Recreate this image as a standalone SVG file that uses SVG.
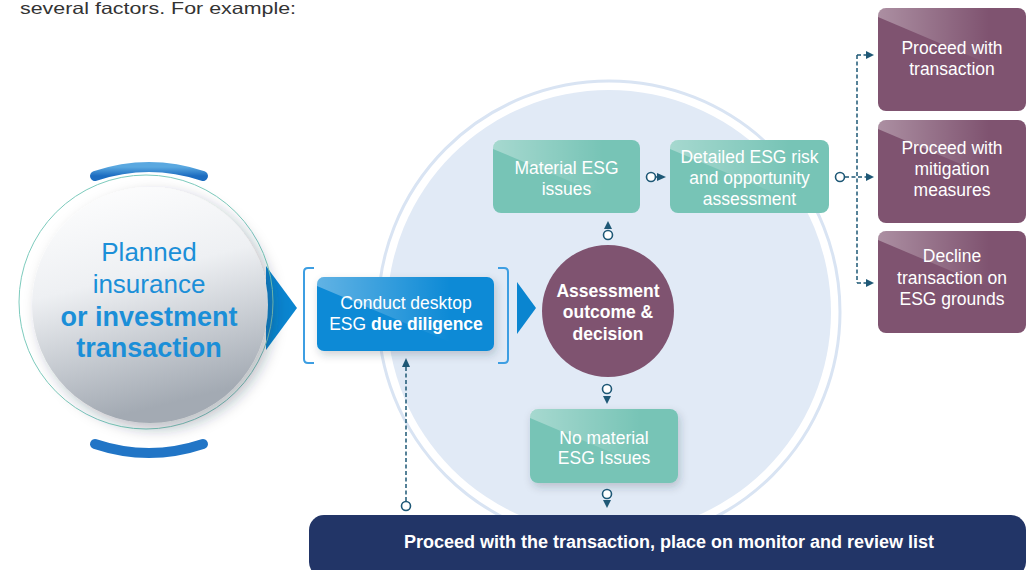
<svg xmlns="http://www.w3.org/2000/svg" width="1029" height="570" viewBox="0 0 1029 570">
<style>
text{font-family:"Liberation Sans",Arial,sans-serif}
.nt{fill:#ffffff;font-size:17.5px;text-anchor:middle}
.nb{fill:#ffffff;font-size:17.5px;font-weight:bold;text-anchor:middle}
.teal{fill:#77c4b6}
.purp{fill:#7f5370}
.con{stroke:#1e5876;stroke-width:1.5;fill:none}
.dash{stroke:#1e5876;stroke-width:1.5;fill:none;stroke-dasharray:4 2.5}
.dot{fill:#ffffff;stroke:#1e5876;stroke-width:1.6}
.ah{fill:#1e5876}
.br{stroke:#3d9ee2;stroke-width:2;fill:none;stroke-linejoin:round}
</style>
<defs>
<linearGradient id="sheen" x1="0" y1="0" x2="1" y2="0">
<stop offset="0" stop-color="#ffffff" stop-opacity="0.35"/>
<stop offset="1" stop-color="#ffffff" stop-opacity="0"/>
</linearGradient>
<linearGradient id="sphere" x1="0" y1="0" x2="0.25" y2="1">
<stop offset="0" stop-color="#ffffff"/>
<stop offset="0.45" stop-color="#eef0f3"/>
<stop offset="1" stop-color="#a3aab3"/>
</linearGradient>
<linearGradient id="arcg" x1="0" y1="0" x2="0" y2="1">
<stop offset="0" stop-color="#5aa8e0"/>
<stop offset="1" stop-color="#1c6cc0"/>
</linearGradient>
<filter id="sh" x="-20%" y="-20%" width="150%" height="160%">
<feDropShadow dx="2" dy="4" stdDeviation="4" flood-color="#203040" flood-opacity="0.22"/>
</filter>
<filter id="sh2" x="-20%" y="-20%" width="150%" height="150%">
<feDropShadow dx="6" dy="6" stdDeviation="7" flood-color="#203040" flood-opacity="0.3"/>
</filter>
</defs>
<rect width="1029" height="570" fill="#ffffff"/>
<text x="20" y="14" font-size="16.5" fill="#333333" textLength="276" lengthAdjust="spacingAndGlyphs">several factors. For example:</text>

<g id="big-circle">
<circle cx="609" cy="312" r="231" fill="none" stroke="#d9e4f3" stroke-width="3"/>
<circle cx="609" cy="312" r="222" fill="#e1eaf6"/>
</g>

<g id="planned">
<polygon points="266,266 297,308 266,350" fill="#0a85d0"/>
<path d="M95 176 Q149 158 203 176" stroke="url(#arcg)" stroke-width="10" stroke-linecap="round" fill="none"/>
<path d="M95 444 Q149 462 203 444" stroke="#2175c6" stroke-width="10" stroke-linecap="round" fill="none"/>
<circle cx="146" cy="302" r="127" fill="none" stroke="#7dcbbd" stroke-width="1"/>
<circle cx="150" cy="305" r="118" fill="url(#sphere)" filter="url(#sh2)"/>
<text x="149" y="261" font-size="26" fill="#1b8fd8" text-anchor="middle">Planned</text>
<text x="149" y="293" font-size="26" fill="#1b8fd8" text-anchor="middle">insurance</text>
<text x="149" y="326" font-size="27" font-weight="bold" fill="#1b8fd8" text-anchor="middle">or investment</text>
<text x="149" y="357" font-size="27" font-weight="bold" fill="#1b8fd8" text-anchor="middle">transaction</text>
</g>

<g id="due-diligence">
<path class="br" d="M314 268 H308 Q304 268 304 272 V359 Q304 363 308 363 H314"/>
<path class="br" d="M498 268 H504 Q508 268 508 272 V359 Q508 363 504 363 H498"/>
<rect x="317" y="277" width="177" height="74" rx="7" fill="#0a8ad6" filter="url(#sh)"/>
<path d="M317,286 V284 Q317,277 324,277 H450 V342 Z" fill="url(#sheen)"/>
<text class="nt" x="406" y="309">Conduct desktop</text>
<text class="nt" x="406" y="330">ESG <tspan font-weight="bold">due diligence</tspan></text>
<polygon points="517,282 536,308 517,334" fill="#0a85d0"/>
</g>

<g id="assessment">
<circle cx="608" cy="311" r="66" class="purp"/>
<text class="nb" x="608" y="297">Assessment</text>
<text class="nb" x="608" y="318">outcome &amp;</text>
<text class="nb" x="608" y="340">decision</text>
</g>

<g id="material">
<rect x="493" y="140" width="147" height="73" rx="8" class="teal"/>
<path d="M493,149 V147 Q493,140 500,140 H603 V195 Z" fill="url(#sheen)"/>
<text class="nt" x="566.5" y="174">Material ESG</text>
<text class="nt" x="566.5" y="195">issues</text>
</g>

<g id="detailed">
<rect x="670" y="140" width="159" height="73" rx="8" class="teal"/>
<path d="M670,149 V147 Q670,140 677,140 H789 V199 Z" fill="url(#sheen)"/>
<text class="nt" x="749.5" y="163">Detailed ESG risk</text>
<text class="nt" x="749.5" y="184">and opportunity</text>
<text class="nt" x="749.5" y="205">assessment</text>
</g>

<g id="no-material">
<rect x="530" y="409" width="148" height="74" rx="8" class="teal" filter="url(#sh)"/>
<path d="M530,418 V416 Q530,409 537,409 H641 V465 Z" fill="url(#sheen)"/>
<text class="nt" x="604" y="444">No material</text>
<text class="nt" x="604" y="464">ESG Issues</text>
</g>

<g id="proceed">
<rect x="878" y="8" width="148" height="103" rx="8" class="purp"/>
<path d="M878,17 V15 Q878,8 885,8 H989 V64 Z" fill="url(#sheen)"/>
<text class="nt" x="952" y="54">Proceed with</text>
<text class="nt" x="952" y="75">transaction</text>
</g>

<g id="mitigation">
<rect x="878" y="120" width="148" height="103" rx="8" class="purp"/>
<path d="M878,129 V127 Q878,120 885,120 H989 V176 Z" fill="url(#sheen)"/>
<text class="nt" x="952" y="154">Proceed with</text>
<text class="nt" x="952" y="175">mitigation</text>
<text class="nt" x="952" y="196">measures</text>
</g>

<g id="decline">
<rect x="878" y="231" width="148" height="102" rx="8" class="purp"/>
<path d="M878,240 V238 Q878,231 885,231 H989 V287 Z" fill="url(#sheen)"/>
<text class="nt" x="952" y="262">Decline</text>
<text class="nt" x="952" y="284">transaction on</text>
<text class="nt" x="952" y="305">ESG grounds</text>
</g>

<g id="monitor">
<rect x="309" y="515" width="717" height="62" rx="15" fill="#223567"/>
<text x="669" y="548" font-size="18" font-weight="bold" fill="#ffffff" text-anchor="middle">Proceed with the transaction, place on monitor and review list</text>
</g>

<g id="connectors">
<line class="con" x1="655" y1="177" x2="658" y2="177"/>
<polygon class="ah" points="657,173 666,177 657,181"/>
<circle class="dot" cx="651" cy="177" r="4.5"/>
<polygon class="ah" points="604,229 608,221 612,229"/>
<circle class="dot" cx="608" cy="235" r="4.5"/>
<polygon class="ah" points="603,396 607,404 611,396"/>
<circle class="dot" cx="607" cy="389" r="4.5"/>
<polygon class="ah" points="603,500 607,508 611,500"/>
<circle class="dot" cx="607" cy="494" r="4.5"/>
<line class="dash" x1="406" y1="501" x2="406" y2="366"/>
<polygon class="ah" points="402,367 406,358 410,367"/>
<circle class="dot" cx="406" cy="506" r="4.5"/>
<line class="dash" x1="845" y1="177" x2="867" y2="177"/>
<line class="dash" x1="857" y1="55" x2="857" y2="283"/>
<line class="dash" x1="857" y1="55" x2="867" y2="55"/>
<line class="dash" x1="857" y1="283" x2="867" y2="283"/>
<polygon class="ah" points="866,51 874,55 866,59"/>
<polygon class="ah" points="866,173 874,177 866,181"/>
<polygon class="ah" points="866,279 874,283 866,287"/>
<circle class="dot" cx="840" cy="177" r="4.5"/>
</g>
</svg>
